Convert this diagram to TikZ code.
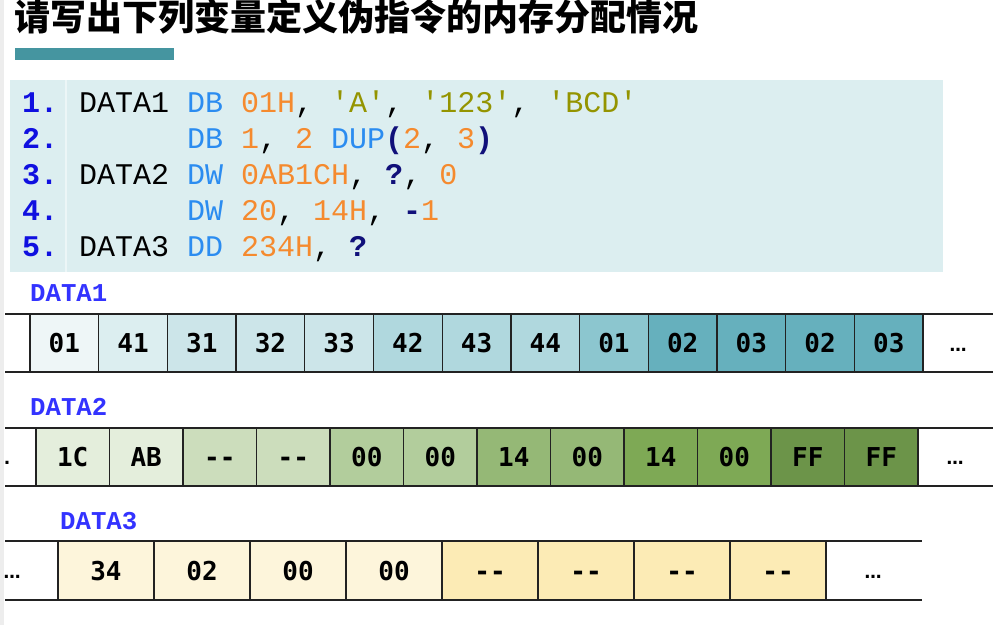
\documentclass[tikz,border=0pt]{standalone}
\usepackage{fontspec}
\usepackage{xcolor}
\usepackage{tikz}
\usetikzlibrary{positioning}

\setmonofont{Liberation Mono}
\newfontfamily\cjk{Noto Sans CJK SC}
\newfontfamily\cellfont{DejaVu Sans Mono}
\newfontfamily\dotfont{DejaVu Sans}

\definecolor{codebg}{HTML}{DCEEF0}
\definecolor{titlebar}{HTML}{4595A0}
\definecolor{lnblue}{HTML}{1010E0}
\definecolor{kwblue}{HTML}{2B8CF0}
\definecolor{numorange}{HTML}{F58A2E}
\definecolor{strolive}{HTML}{949400}
\definecolor{opnavy}{HTML}{10107A}
\definecolor{labblue}{HTML}{3333FF}
\definecolor{cellline}{HTML}{222222}
% DATA1 shades
\definecolor{ta}{HTML}{EEF6F7}
\definecolor{tb}{HTML}{DCEEF0}
\definecolor{tc}{HTML}{CCE5E9}
\definecolor{td}{HTML}{B0D8DE}
\definecolor{te}{HTML}{8CC6CF}
\definecolor{tf}{HTML}{66B0BD}
% DATA2 shades
\definecolor{ga}{HTML}{E4EEDC}
\definecolor{gb}{HTML}{CCDDBC}
\definecolor{gc}{HTML}{B2CD9C}
\definecolor{gd}{HTML}{95B876}
\definecolor{ge}{HTML}{7EA955}
\definecolor{gf}{HTML}{6C9449}
% DATA3 shades
\definecolor{ya}{HTML}{FDF5DB}
\definecolor{yb}{HTML}{FCEBB5}

\newcommand{\asmkw}[1]{\textcolor{kwblue}{#1}}
\newcommand{\asmnum}[1]{\textcolor{numorange}{#1}}
\newcommand{\asmstr}[1]{\textcolor{strolive}{#1}}
\newcommand{\asmop}[1]{\textcolor{opnavy}{\bfseries #1}}

\begin{document}
\begin{tikzpicture}[
    x=1pt,
    y=-1pt,
    codeline/.style={anchor=base west,inner sep=0pt,
        font=\ttfamily\fontsize{30}{36}\selectfont},
    lineno/.style={codeline,text=lnblue,
        font=\ttfamily\bfseries\fontsize{30}{36}\selectfont},
    memcell/.style={draw=cellline,line width=1.3pt,minimum height=58pt,
        inner sep=0pt,text height=19pt,text depth=0pt,
        font=\cellfont\bfseries\fontsize{26}{30}\selectfont},
    datalabel/.style={anchor=base west,inner sep=0pt,text=labblue,
        font=\ttfamily\bfseries\fontsize{25.7}{30}\selectfont},
    moredots/.style={inner sep=0pt,font=\dotfont\bfseries\fontsize{17}{20}\selectfont},
    rowline/.style={line width=1.5pt,cellline}
]

\useasboundingbox (0,0) rectangle (994,625);

% ---------------------------------------------------------
% Title
% ---------------------------------------------------------

\fill[gray!14] (0,0) rectangle (4,625);

\node[anchor=base west,inner sep=0pt,
      font=\cjk\bfseries\fontsize{36}{40}\selectfont]
    (title) at (14,30) {请写出下列变量定义伪指令的内存分配情况};

\fill[titlebar] (15,48) rectangle (174,60);

% ---------------------------------------------------------
% Source listing
% ---------------------------------------------------------

\fill[codebg] (10,80) rectangle (943,272);
\draw[white!45!codebg,line width=1.5pt] (66,80) -- (66,272);

\foreach \k in {1,...,5}{
    \node[lineno] (ln\k) at (22,{112+(\k-1)*36}) {\k.};
}

\node[codeline] (src1) at (79,112)
    {DATA1 \asmkw{DB} \asmnum{01H}, \asmstr{'A'}, \asmstr{'123'}, \asmstr{'BCD'}};
\node[codeline] (src2) at (187,148)
    {\asmkw{DB} \asmnum{1}, \asmnum{2} \asmkw{DUP}\asmop{(}\asmnum{2}, \asmnum{3}\asmop{)}};
\node[codeline] (src3) at (79,184)
    {DATA2 \asmkw{DW} \asmnum{0AB1CH}, \asmop{?}, \asmnum{0}};
\node[codeline] (src4) at (187,220)
    {\asmkw{DW} \asmnum{20}, \asmnum{14H}, \asmop{-}\asmnum{1}};
\node[codeline] (src5) at (79,256)
    {DATA3 \asmkw{DD} \asmnum{234H}, \asmop{?}};

% ---------------------------------------------------------
% DATA1 bytes
% ---------------------------------------------------------

\node[datalabel] (lab1) at (30,301.5) {DATA1};

\draw[rowline] (5,314) -- (993,314);
\draw[rowline] (5,372) -- (993,372);

\foreach \val/\col [count=\i] in {%
    01/ta, 41/tb, 31/tc, 32/tc, 33/tc, 42/td, 43/td,
    44/td, 01/te, 02/tf, 03/tf, 02/tf, 03/tf%
}{
    \node[memcell,minimum width=68.7pt,fill=\col]
        (da\i) at ({30+(\i-0.5)*68.7},343) {\val};
}

\node[moredots] (da-more) at (958,350) {…};

% ---------------------------------------------------------
% DATA2 words
% ---------------------------------------------------------

\node[datalabel] (lab2) at (30,415.5) {DATA2};

\draw[rowline] (5,428) -- (993,428);
\draw[rowline] (5,486) -- (993,486);

\foreach \val/\col [count=\i] in {%
    1C/ga, AB/ga, {-{}-}/gb, {-{}-}/gb, 00/gc, 00/gc,
    14/gd, 00/gd, 14/ge, 00/ge, FF/gf, FF/gf%
}{
    \node[memcell,minimum width=73.5pt,fill=\col]
        (db\i) at ({36+(\i-0.5)*73.5},457) {\val};
}

\node[moredots] (db-less) at (7,463) {.};
\node[moredots] (db-more) at (955,463) {…};

% ---------------------------------------------------------
% DATA3 double words
% ---------------------------------------------------------

\node[datalabel] (lab3) at (60,529) {DATA3};

\draw[rowline] (5,541) -- (922,541);
\draw[rowline] (5,600) -- (922,600);

\foreach \val/\col [count=\i] in {%
    34/ya, 02/ya, 00/ya, 00/ya, {-{}-}/yb, {-{}-}/yb, {-{}-}/yb, {-{}-}/yb%
}{
    \node[memcell,minimum width=96pt,minimum height=59pt,fill=\col]
        (dc\i) at ({58+(\i-0.5)*96},570.5) {\val};
}

\node[moredots] (dc-less) at (12,577) {…};
\node[moredots] (dc-more) at (873,577) {…};

\end{tikzpicture}
\end{document}
